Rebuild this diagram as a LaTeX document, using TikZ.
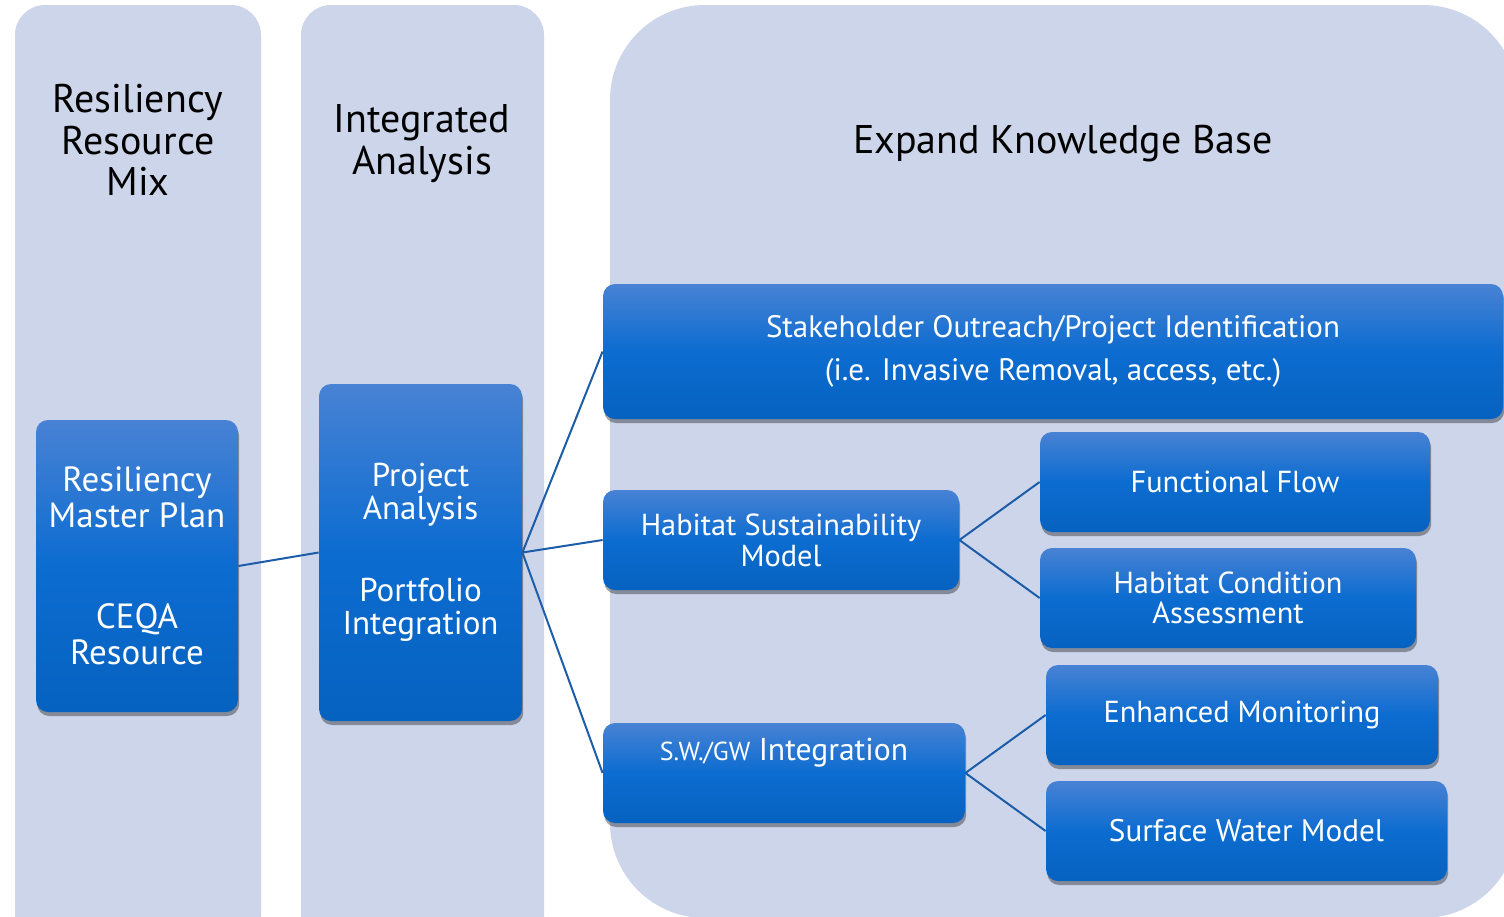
\documentclass[tikz,border=0pt]{standalone}
\usepackage{fontspec}
\setmainfont{PT Sans}
\usetikzlibrary{shadows,calc}
\definecolor{panelc}{RGB}{205,213,234}
\definecolor{boxtop}{RGB}{72,130,212}
\definecolor{boxmid}{RGB}{12,108,208}
\definecolor{boxbot}{RGB}{6,98,192}
\definecolor{linec}{RGB}{28,92,168}
\tikzset{
  bbox/.style={draw=none, rounded corners=6pt, top color=boxtop, bottom color=boxbot, middle color=boxmid,
    text=white, align=center, inner sep=0pt,
    drop shadow={shadow xshift=0.6pt, shadow yshift=-2pt, opacity=0.35, fill=black}},
  conn/.style={draw=linec, line width=1pt},
  ttl/.style={align=center, text=black, font={\fontsize{20}{21}\selectfont}},
  btxt/.style={font={\fontsize{15.2}{15.5}\selectfont}}
}
\begin{document}
\begin{tikzpicture}[x=0.5pt,y=-0.5pt]
\useasboundingbox (0,0) rectangle (1504,916);
\fill[white] (0,0) rectangle (1504,916);
\begin{scope}
\clip (0,0) rectangle (1504,916);
\fill[panelc, rounded corners=15pt] (15,5) rectangle (261,980);
\fill[panelc, rounded corners=15pt] (301,5) rectangle (544,980);
\fill[panelc, rounded corners=47.5pt] (610,5) rectangle (1518,918);
\end{scope}
% titles
\node[ttl, font={\fontsize{20}{20.75}\selectfont}] (t1) at (138,140) {Resiliency\\Resource\\Mix};
\node[ttl] (t2) at (422,144) {Integrated\\Analysis};
\node[ttl] (t3) at (1063,144) {Expand Knowledge Base};
% boxes
\node[bbox, minimum width=101pt, minimum height=146pt, font={\fontsize{17.5}{18}\selectfont}] (rmp) at (137,566)
  {Resiliency\\Master Plan\\[32.5pt]CEQA\\Resource};
\node[bbox, minimum width=101.5pt, minimum height=168.5pt, font={\fontsize{16.5}{16.5}\selectfont}] (pa) at (420.5,552.5)
  {Project\\Analysis\\[24.5pt]Portfolio\\Integration};
\node[bbox, minimum width=450pt, minimum height=67.5pt, font={\fontsize{15.5}{21.5}\selectfont}] (sh) at (1053,351.5)
  {Stakeholder Outreach/Project Identification\\(i.e. Invasive Removal, access, etc.)};
\node[bbox, btxt, minimum width=178pt, minimum height=50pt] (hsm) at (781,540) {Habitat Sustainability\\Model};
\node[bbox, btxt, minimum width=181pt, minimum height=50pt] (sw) at (784,773) {};
\node[text=white, inner sep=0pt, font={\fontsize{15.8}{16}\selectfont}] (swt) at (784,753) {{\fontsize{13}{13}\selectfont S.W./GW} Integration};
\node[bbox, btxt, minimum width=195pt, minimum height=50pt] (ff) at (1235,482) {Functional Flow};
\node[bbox, btxt, minimum width=188pt, minimum height=50pt, font={\fontsize{15.2}{15}\selectfont}] (hca) at (1228,598) {Habitat Condition\\Assessment};
\node[bbox, btxt, minimum width=196pt, minimum height=50pt] (em) at (1242,715) {Enhanced Monitoring};
\node[bbox, btxt, minimum width=200.5pt, minimum height=50pt, font={\fontsize{15.6}{16}\selectfont}] (swm) at (1246.5,831) {Surface Water Model};
% connectors
\draw[conn] (rmp.east) -- (pa.west);
\draw[conn] (pa.east) -- (sh.west);
\draw[conn] (pa.east) -- (hsm.west);
\draw[conn] (pa.east) -- (sw.west);
\draw[conn] (hsm.east) -- (ff.west);
\draw[conn] (hsm.east) -- (hca.west);
\draw[conn] (sw.east) -- (em.west);
\draw[conn] (sw.east) -- (swm.west);
\end{tikzpicture}
\end{document}
